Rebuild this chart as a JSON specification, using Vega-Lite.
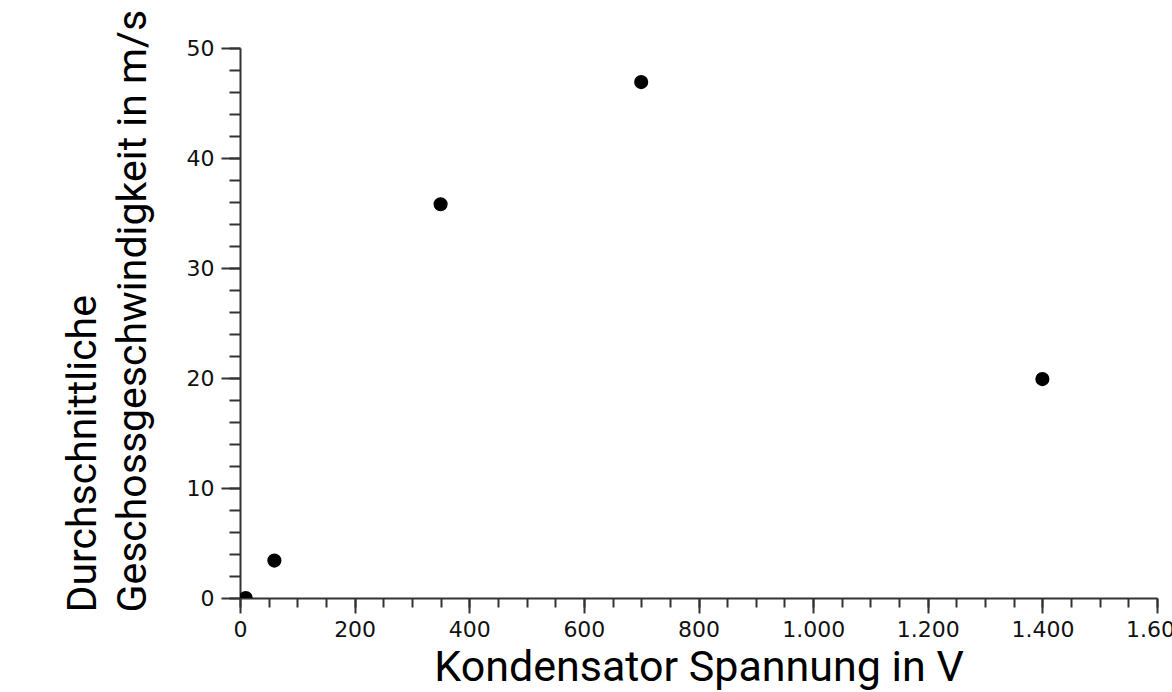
{
  "$schema": "https://vega.github.io/schema/vega-lite/v6.json",
  "autosize": "none",
  "width": 917,
  "height": 550,
  "padding": {"left": 240, "top": 48, "right": 15, "bottom": 94},
  "background": "white",
  "config": {"view": {"stroke": null}},
  "data": {"values": [
    {"spannung": 10, "geschwindigkeit": 0},
    {"spannung": 60, "geschwindigkeit": 3.4},
    {"spannung": 350, "geschwindigkeit": 35.8},
    {"spannung": 700, "geschwindigkeit": 46.9},
    {"spannung": 1400, "geschwindigkeit": 19.9}
  ]},
  "layer": [
    {
      "mark": {"type": "point", "filled": true, "color": "black", "opacity": 0, "size": 10},
      "encoding": {
        "x": {"field": "spannung", "type": "quantitative", "scale": {"domain": [0, 1600], "nice": false, "zero": true},
          "axis": {"orient": "bottom", "values": [0,50,100,150,200,250,300,350,400,450,500,550,600,650,700,750,800,850,900,950,1000,1050,1100,1150,1200,1250,1300,1350,1400,1450,1500,1550,1600],
            "labels": false, "domain": false, "grid": false, "tickSize": 9, "tickWidth": 2, "tickColor": "#333333", "title": null}},
        "y": {"field": "geschwindigkeit", "type": "quantitative", "scale": {"domain": [0, 50], "nice": false},
          "axis": {"orient": "left", "values": [0,2,4,6,8,10,12,14,16,18,20,22,24,26,28,30,32,34,36,38,40,42,44,46,48,50],
            "labels": false, "domain": false, "grid": false, "tickSize": 11, "tickWidth": 2, "tickColor": "#333333", "title": null}}
      }
    },
    {
      "mark": {"type": "point", "filled": true, "color": "black", "opacity": 1, "size": 200, "shape": "circle", "clip": true},
      "encoding": {
        "x": {"field": "spannung", "type": "quantitative", "scale": {"domain": [0, 1600], "nice": false},
          "axis": {"orient": "bottom", "values": [0,200,400,600,800,1000,1200,1400,1600], "grid": false,
            "domain": true, "domainColor": "#333333", "domainWidth": 2,
            "tickSize": 15, "tickWidth": 2, "tickColor": "#333333",
            "labelExpr": "replace(format(datum.value, ','), ',', '.')",
            "labelFont": "DejaVu Sans", "labelFontSize": 22, "labelColor": "#111111", "labelPadding": 6, "labelFlush": false, "labelOverlap": false,
            "title": "Kondensator Spannung in V", "titleFont": "Roboto", "titleFontSize": 43, "titleFontWeight": "normal", "titleColor": "#000000",
            "titleBaseline": "alphabetic", "titleY": 82}},
        "y": {"field": "geschwindigkeit", "type": "quantitative", "scale": {"domain": [0, 50], "nice": false},
          "axis": {"orient": "left", "values": [0,10,20,30,40,50], "grid": false,
            "domain": true, "domainColor": "#333333", "domainWidth": 2,
            "tickSize": 19, "tickWidth": 2, "tickColor": "#333333",
            "labelFont": "DejaVu Sans", "labelFontSize": 22, "labelColor": "#111111", "labelPadding": 7, "labelFlush": false, "labelOverlap": false,
            "title": ["Durchschnittliche", "Geschossgeschwindigkeit in m/s"], "titleFont": "Roboto", "titleFontSize": 41, "titleFontWeight": "normal", "titleColor": "#000000",
            "titleAngle": -90, "titleAlign": "left", "titleBaseline": "alphabetic", "titleX": -145, "titleY": 564, "titleLineHeight": 50}}
      }
    }
  ],
  "resolve": {"axis": {"x": "independent", "y": "independent"}}
}
